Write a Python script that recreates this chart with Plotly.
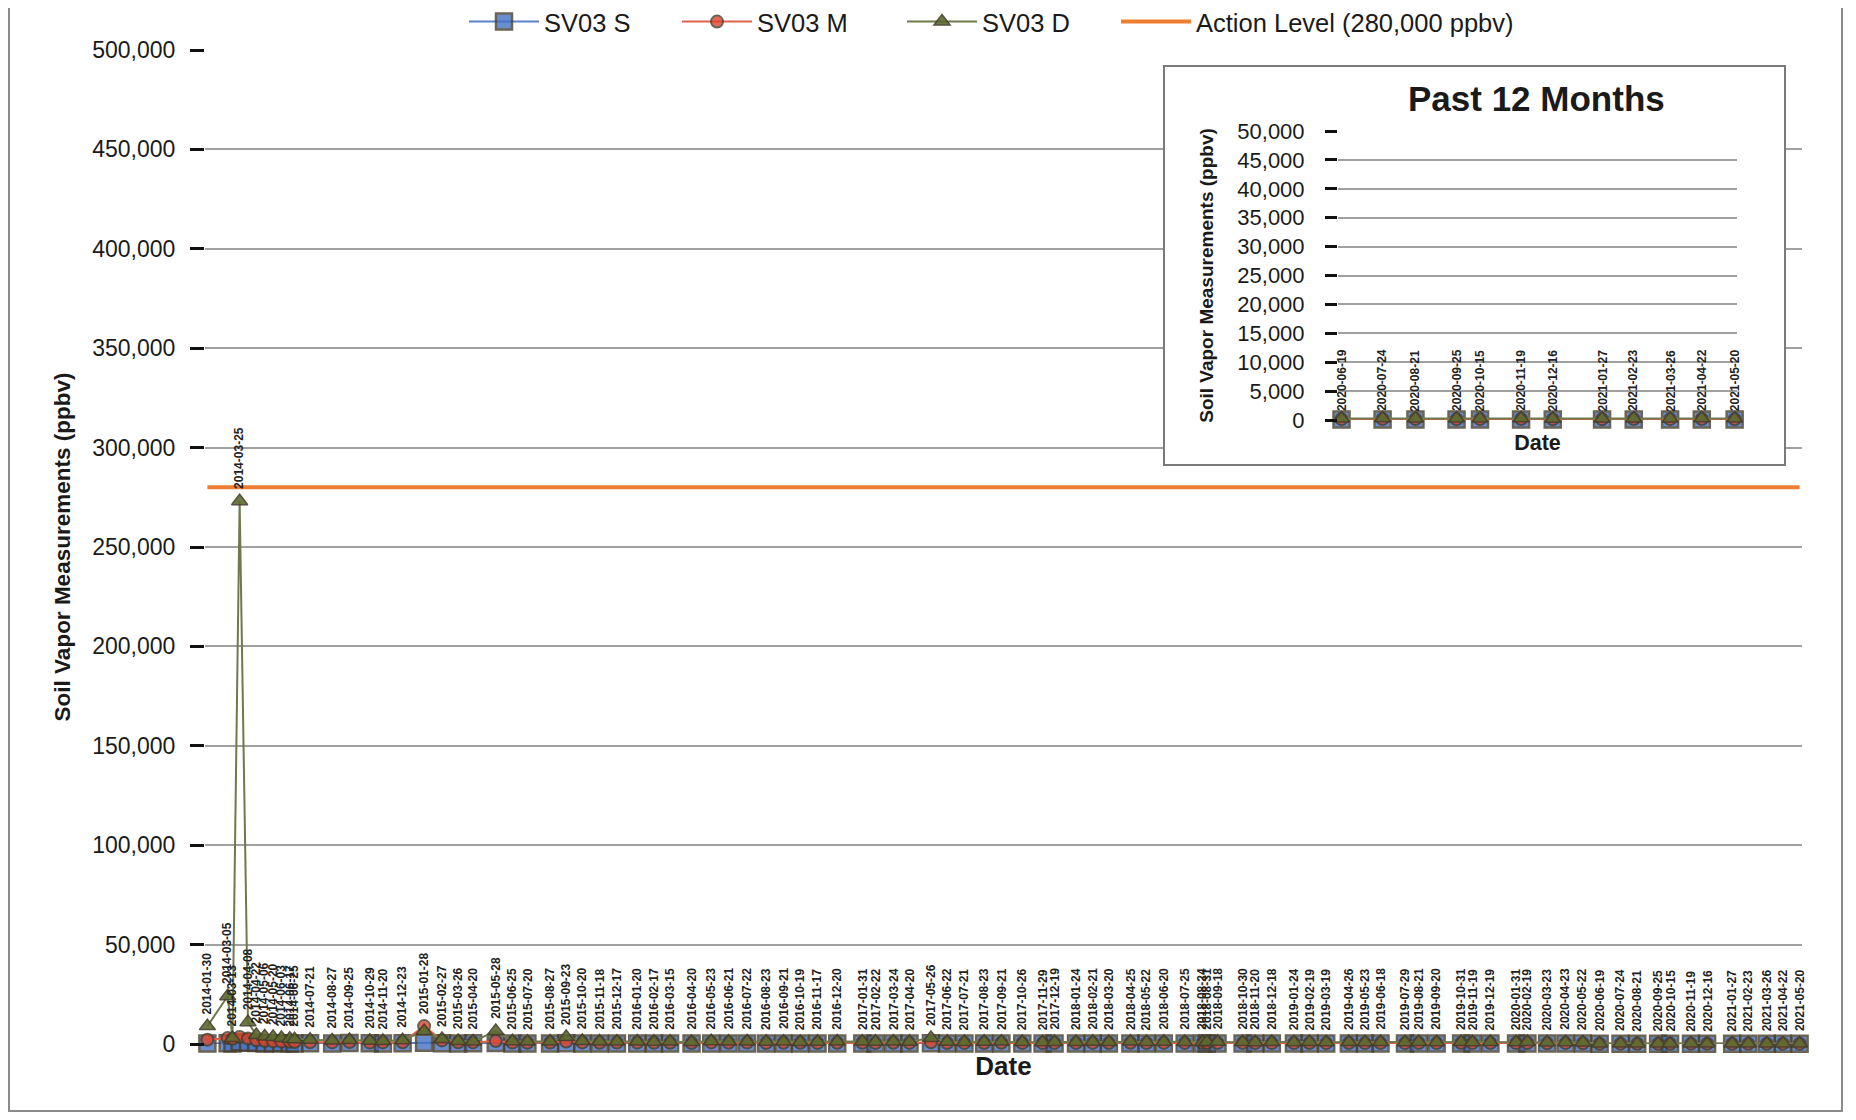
import plotly.graph_objects as go

# ---------------- data ----------------
dates = [
    "2014-01-30", "2014-03-05", "2014-03-13", "2014-03-25", "2014-04-08", "2014-04-22",
    "2014-05-06", "2014-05-20", "2014-06-03", "2014-06-17", "2014-06-25", "2014-07-21",
    "2014-08-27", "2014-09-25", "2014-10-29", "2014-11-20", "2014-12-23",
    "2015-01-28", "2015-02-27", "2015-03-26", "2015-04-20", "2015-05-28", "2015-06-25",
    "2015-07-20", "2015-08-27", "2015-09-23", "2015-10-20", "2015-11-18", "2015-12-17",
    "2016-01-20", "2016-02-17", "2016-03-15", "2016-04-20", "2016-05-23", "2016-06-21",
    "2016-07-22", "2016-08-23", "2016-09-21", "2016-10-19", "2016-11-17", "2016-12-20",
    "2017-01-31", "2017-02-22", "2017-03-24", "2017-04-20", "2017-05-26", "2017-06-22",
    "2017-07-21", "2017-08-23", "2017-09-21", "2017-10-26", "2017-11-29", "2017-12-19",
    "2018-01-24", "2018-02-21", "2018-03-20", "2018-04-25", "2018-05-22", "2018-06-20",
    "2018-07-25", "2018-08-24", "2018-08-31", "2018-09-18", "2018-10-30", "2018-11-20",
    "2018-12-18",
    "2019-01-24", "2019-02-19", "2019-03-19", "2019-04-26", "2019-05-23", "2019-06-18",
    "2019-07-29", "2019-08-21", "2019-09-20", "2019-10-31", "2019-11-19", "2019-12-19",
    "2020-01-31", "2020-02-19", "2020-03-23", "2020-04-23", "2020-05-22", "2020-06-19",
    "2020-07-24", "2020-08-21", "2020-09-25", "2020-10-15", "2020-11-19", "2020-12-16",
    "2021-01-27", "2021-02-23", "2021-03-26", "2021-04-22", "2021-05-20",
]

sv03_s = [
    200, 400, 300, 900, 600, 500, 300, 400, 350, 300, 250, 400, 300, 500, 350, 300, 400,
    600, 400, 300, 350, 500, 300, 250, 300, 400, 300, 250, 300,
    300, 250, 300, 200, 300, 250, 300, 200, 250, 300, 200, 250,
    250, 200, 300, 250, 400, 250, 200, 250, 300, 250, 200, 250,
    200, 250, 200, 250, 200, 250, 200, 200, 250, 200, 250, 200, 250,
    220, 260, 200, 240, 210, 250, 190, 230, 200, 260, 210, 240,
    200, 250, 200, 250, 200, 80, 100, 90, 70, 80, 90, 70,
    80, 90, 70, 80, 90,
]

sv03_m = [
    2200, 3000, 2600, 3500, 2800, 1900, 1500, 1300, 1200, 1100, 1000, 900, 800, 1000, 700, 800, 900,
    9000, 1800, 900, 800, 1500, 700, 600, 700, 1200, 800, 600, 700,
    700, 600, 650, 500, 800, 600, 700, 500, 600, 650, 500, 600,
    600, 500, 600, 550, 900, 500, 450, 500, 600, 500, 450, 500,
    500, 550, 500, 600, 500, 550, 500, 450, 500, 500, 550, 500, 450,
    450, 520, 430, 500, 460, 510, 440, 490, 450, 530, 460, 500,
    450, 500, 400, 450, 400, 150, 180, 160, 140, 150, 170, 130,
    140, 160, 150, 170, 140,
]

sv03_d = [
    9000, 24000, 3000, 273000, 11000, 4500, 3800, 3500, 3000, 2600, 2400, 2200, 1800, 2000, 1600, 1500, 1900,
    6500, 2500, 1500, 1300, 6500, 1400, 1200, 1300, 3500, 1500, 1300, 1200,
    1300, 1100, 1200, 1000, 1400, 1200, 1300, 1100, 1200, 1000, 1100, 1300,
    1200, 1100, 1200, 1100, 3000, 1100, 1000, 1100, 1200, 1000, 900, 1000,
    1000, 1100, 1000, 1200, 1000, 1100, 1000, 900, 1000, 1100, 1000, 900, 1000,
    900, 1050, 880, 1000, 920, 1020, 870, 980, 910, 1030, 900, 990,
    900, 1000, 800, 900, 800, 250, 300, 280, 260, 240, 300, 220,
    260, 280, 240, 300, 250,
]

action_level = 280000
main_y_ticks = [0, 50000, 100000, 150000, 200000, 250000, 300000, 350000, 400000, 450000, 500000]
inset_y_ticks = [0, 5000, 10000, 15000, 20000, 25000, 30000, 35000, 40000, 45000, 50000]
inset_start = "2020-06-01"

# ---------------- layout helpers ----------------
W, H = 1840, 1104


def px(x):
    return x / W


def py(y):
    return 1 - y / H


FONT = "Liberation Sans, Arial, sans-serif"
C_S, C_M, C_D = "#4472C4", "#E0452C", "#5C6B2E"
EDGE = "#463e2e"

fig = go.Figure()

# name, values, symbol, fill, line colour, size, opacity, edge width, legend
series = [
    ("SV03 S", sv03_s, "square", C_S, "#5B82C8", 16, 0.8, 2.5, "legend"),
    ("SV03 M", sv03_m, "circle", C_M, "#E0604A", 12, 0.8, 2, "legend2"),
    ("SV03 D", sv03_d, "triangle-up", C_D, "#6E7A4C", 14, 0.9, 1.5, "legend3"),
]

for name, vals, sym, col, lcol, size, op, ew, lg in series:
    fig.add_trace(go.Scatter(
        x=dates, y=vals, name=name, mode="lines+markers",
        line=dict(color=lcol, width=2),
        marker=dict(symbol=sym, size=size, color=col, opacity=op,
                    line=dict(color=EDGE, width=ew)),
        cliponaxis=False, xaxis="x", yaxis="y", legend=lg,
    ))

fig.add_trace(go.Scatter(
    x=[dates[0], dates[-1]], y=[action_level, action_level],
    name="Action Level (280,000 ppbv)", mode="lines",
    line=dict(color="#ED7D31", width=4), xaxis="x", yaxis="y", legend="legend4",
))

# box subplot behind the inset (x2/y2): its plot background hides the main grid
fig.add_trace(go.Scatter(x=[], y=[], xaxis="x2", yaxis="y2", showlegend=False))

# inset (x3/y3)
idx = [i for i, d in enumerate(dates) if d >= inset_start]
in_dates = [dates[i] for i in idx]
for name, vals, sym, col, lcol, size, op, ew, lg in series:
    fig.add_trace(go.Scatter(
        x=in_dates, y=[vals[i] for i in idx], name=name, mode="lines+markers",
        line=dict(color=lcol, width=2),
        marker=dict(symbol=sym, size=size, color=col, opacity=op,
                    line=dict(color=EDGE, width=ew)),
        cliponaxis=False, xaxis="x3", yaxis="y3", showlegend=False,
    ))

annotations = []
lab_font = dict(family=FONT, size=12, color="#222222", weight="bold")
for i, d in enumerate(dates):
    top = max(sv03_s[i], sv03_m[i], sv03_d[i])
    annotations.append(dict(
        x=d, y=top, xref="x", yref="y", text=d, textangle=-90, showarrow=False,
        xanchor="center", yanchor="bottom", yshift=10, font=lab_font,
    ))
for i in idx:
    top = max(sv03_s[i], sv03_m[i], sv03_d[i])
    annotations.append(dict(
        x=dates[i], y=top, xref="x3", yref="y3", text=dates[i], textangle=-90, showarrow=False,
        xanchor="center", yanchor="bottom", yshift=5, font=lab_font,
    ))
annotations.append(dict(
    x=px(1528), y=py(91), xref="paper", yref="paper", text="<b>Past 12 Months</b>",
    showarrow=False, xanchor="center", yanchor="middle",
    font=dict(family=FONT, size=35, color="#1a1a1a"),
))


def leg(xfig):
    return dict(
        orientation="h", x=px(xfig), y=py(14), xanchor="left", yanchor="middle",
        font=dict(family=FONT, size=25.5, color="#1a1a1a"),
        itemwidth=70, bgcolor="rgba(0,0,0,0)",
    )


fig.update_layout(
    width=W, height=H, template="none",
    margin=dict(l=0, r=0, t=0, b=0, autoexpand=False),
    paper_bgcolor="white", plot_bgcolor="white",
    font=dict(family=FONT, color="#1a1a1a"),
    showlegend=True,
    legend=leg(456), legend2=leg(669), legend3=leg(894), legend4=leg(1108),
    xaxis=dict(
        domain=[px(197), px(1794)], type="date",
        range=["2014-01-26", "2021-05-24"],
        showgrid=False, showticklabels=False, ticks="", zeroline=False, showline=False,
        title=dict(text="<b>Date</b>", font=dict(size=26, family=FONT), standoff=12),
        anchor="y",
    ),
    yaxis=dict(
        domain=[py(1036), py(42)], range=[0, 500000],
        tickvals=main_y_ticks, tickformat=",",
        ticks="outside", ticklen=14, tickwidth=3, tickcolor="#111111",
        ticklabelstandoff=10,
        tickfont=dict(size=23, family=FONT, color="#1a1a1a"),
        showgrid=True, gridcolor="#A0A0A0", gridwidth=1.5,
        zeroline=False, showline=False,
        title=dict(text="<b>Soil Vapor Measurements (ppbv)</b>",
                   font=dict(size=22.5, family=FONT), standoff=15),
        anchor="x",
    ),
    xaxis2=dict(
        domain=[px(1157), px(1776)], range=[0, 1], anchor="y2",
        showgrid=False, showticklabels=False, ticks="", zeroline=False,
        showline=True, mirror=True, linecolor="#7a7a7a", linewidth=2,
    ),
    yaxis2=dict(
        domain=[py(456), py(59)], range=[0, 1], anchor="x2",
        showgrid=False, showticklabels=False, ticks="", zeroline=False,
        showline=True, mirror=True, linecolor="#7a7a7a", linewidth=2,
    ),
    xaxis3=dict(
        domain=[px(1330), px(1729)], type="date",
        range=["2020-06-16", "2021-05-22"], anchor="y3",
        showgrid=False, showticklabels=False, ticks="", zeroline=False, showline=False,
        title=dict(text="<b>Date</b>", font=dict(size=21.5, family=FONT), standoff=14),
    ),
    yaxis3=dict(
        domain=[py(412), py(123)], range=[0, 50000], anchor="x3",
        tickvals=inset_y_ticks, tickformat=",",
        ticks="outside", ticklen=12, tickwidth=3, tickcolor="#111111",
        ticklabelstandoff=16,
        tickfont=dict(size=22, family=FONT, color="#1a1a1a"),
        showgrid=True, gridcolor="#A0A0A0", gridwidth=1.5,
        zeroline=False, showline=False,
        title=dict(text="<b>Soil Vapor Measurements (ppbv)</b>",
                   font=dict(size=19, family=FONT), standoff=18),
    ),
    annotations=annotations,
    shapes=[
        dict(type="rect", xref="paper", yref="paper", x0=px(1), x1=px(1834), y0=py(1103), y1=1.05,
             fillcolor="rgba(0,0,0,0)", line=dict(color="#8a8a8a", width=2), layer="below"),
    ],
)

fig.write_html("out.html")
